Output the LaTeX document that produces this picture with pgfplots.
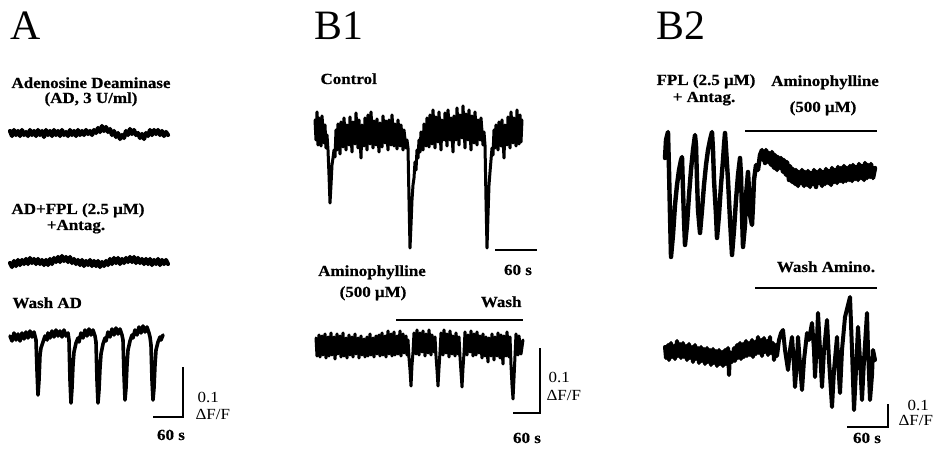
\documentclass[border=0pt]{standalone}
\usepackage{pgfplots}
\pgfplotsset{compat=1.18}
\usepackage{fontspec}
\setmainfont{Liberation Serif}
\newfontfamily\lblfamily[FakeStretch=1.1, BoldFeatures={FakeBold=0.6}]{Liberation Serif}

\newcommand\lbl{\lblfamily\fontsize{15.5}{18}\selectfont\bfseries}
\newcommand\sml{\lblfamily\fontsize{15.5}{18}\selectfont}
\newcommand\panel{\fontsize{42}{46}\selectfont}

\tikzset{
  trace/.style={black, line width=3bp, line join=round, line cap=round, mark=none},
  bar/.style={black, line width=2.2bp, mark=none},
}

\begin{document}
\begin{tikzpicture}
\begin{axis}[name=ax, scale only axis, width=934bp, height=450bp,
  xmin=0, xmax=934, ymin=0, ymax=450, y dir=reverse, hide axis, clip=false]

% ---------------- panel A ----------------
\node[anchor=base west, font=\panel] at (axis cs:7,40) {A};
\node[anchor=base, font=\lbl] at (axis cs:91,88) {Adenosine Deaminase};
\node[anchor=base, font=\lbl] at (axis cs:91,103) {(AD, 3 U/ml)};
\node[anchor=base, font=\lbl] at (axis cs:78,214) {AD+FPL (2.5 μM)};
\node[anchor=base, font=\lbl] at (axis cs:76,230) {+Antag.};
\node[anchor=base west, font=\lbl] at (axis cs:9,308) {Wash AD};

% adenosine deaminase
\addplot[trace, line width=4.2bp] coordinates {
(10,131) (12,136) (14,130) (16,135) (18,131) (20,136) (22,130) (24,135) (26,132) (28,136)
(30,130) (32,135) (34,131) (36,136) (38,130) (40,135) (42,131) (44,137) (46,130) (48,135)
(50,131) (52,136) (54,130) (56,135) (58,131) (60,136) (62,130) (64,135) (66,132) (68,136)
(70,130) (72,135) (74,131) (76,136) (78,130) (80,135) (82,131) (84,135) (86,130) (88,134)
(90,131) (92,135) (94,130) (96,133) (98,128) (100,132) (102,126) (104,131) (106,127) (108,132)
(110,129) (112,135) (114,131) (116,137) (118,133) (120,139) (122,135) (124,138) (126,131) (128,135)
(130,129) (132,134) (134,130) (136,135) (138,133) (140,138) (142,134) (144,139) (146,133) (148,136)
(150,130) (152,135) (154,130) (156,134) (158,130) (160,135) (162,131) (164,136) (166,132) (168,135)};

% AD + FPL + antagonists
\addplot[trace, line width=4.2bp] coordinates {
(10,263) (12,267) (14,261) (16,266) (18,260) (20,265) (22,260) (24,264) (26,259) (28,264)
(30,258) (32,263) (34,259) (36,264) (38,259) (40,264) (42,260) (44,265) (46,260) (48,265)
(50,259) (52,264) (54,258) (56,262) (58,257) (60,262) (62,256) (64,261) (66,257) (68,262)
(70,257) (72,263) (74,259) (76,264) (78,260) (80,265) (82,260) (84,266) (86,261) (88,265)
(90,260) (92,266) (94,261) (96,266) (98,261) (100,267) (102,262) (104,266) (106,261) (108,265)
(110,259) (112,264) (114,258) (116,263) (118,258) (120,264) (122,259) (124,263) (126,258) (128,262)
(130,257) (132,262) (134,257) (136,263) (138,258) (140,263) (142,259) (144,264) (146,259) (148,264)
(150,259) (152,265) (154,260) (156,264) (158,259) (160,265) (162,260) (164,264) (166,260) (168,264)};

% wash AD
\addplot[trace, line width=3.6bp] coordinates {
(10,336) (12,341) (14,333) (16,340) (18,334) (20,341) (22,333) (24,339) (26,332) (28,338)
(30,331) (32,337) (34,332) (35,336) (36,340) (37,370) (38,395) (39,380) (40,355) (41,348)
(43,342) (45,336) (47,340) (48,333) (50,338) (52,331) (54,337) (56,330) (58,336) (60,331)
(62,337) (64,330) (66,336) (68,333) (69,340) (70,380) (71,403) (72,388) (73,365) (74,352)
(76,343) (78,338) (79,342) (81,333) (83,338) (85,330) (87,336) (89,329) (91,335) (93,330)
(95,336) (96,342) (97,380) (98,403) (99,390) (100,368) (101,354) (103,344) (105,338) (106,341)
(108,332) (110,337) (112,329) (114,335) (116,328) (118,334) (120,329) (122,335) (123,340) (124,375)
(125,400) (126,388) (127,365) (128,350) (130,341) (132,335) (133,338) (135,330) (137,335) (139,327)
(141,333) (143,326) (145,332) (147,327) (149,333) (150,337) (151,345) (152,380) (153,400) (154,388)
(155,365) (156,350) (158,342) (160,337) (161,340) (163,335)};

% scale bar A
\addplot[bar] coordinates {(153,417) (183,417) (183,367)};
\node[anchor=base west, font=\sml] at (axis cs:194,403) {0.1};
\node[anchor=base west, font=\sml] at (axis cs:192,420) {ΔF/F};
\node[anchor=base, font=\lbl] at (axis cs:171,440) {60 s};

% ---------------- panel B1 ----------------
\node[anchor=base west, font=\panel] at (axis cs:311,40) {B1};
\node[anchor=base west, font=\lbl] at (axis cs:317,84) {Control};

\addplot[trace] coordinates {
(315,120) (316,140) (317,112) (318,145) (319,118) (321,146) (322,116) (324,143) (325,125) (326,148)
(327,135) (328,150) (329,175) (330,203) (331,185) (332,165) (333,158) (334,150) (335,157) (336,130)
(337,150) (338,124) (340,154) (341,122) (343,147) (344,118) (346,150) (347,125) (349,145) (350,117)
(352,152) (353,122) (355,144) (356,113) (358,148) (359,120) (361,158) (362,125) (364,146) (365,118)
(367,150) (368,115) (370,144) (371,112) (373,148) (374,121) (376,145) (377,119) (379,152) (380,123)
(382,147) (383,116) (385,143) (386,121) (388,150) (389,120) (391,145) (392,115) (394,146) (395,124)
(397,149) (398,120) (400,146) (401,125) (403,150) (404,130) (406,148) (407,140) (408,148) (409,200)
(410,248) (411,225) (412,200) (413,185) (414,178) (415,162) (416,170) (417,150) (418,158) (419,140)
(420,152) (421,132) (423,150) (424,124) (426,146) (427,118) (429,147) (430,115) (432,144) (433,110)
(435,148) (436,117) (438,142) (439,112) (441,150) (442,120) (444,140) (445,113) (447,146) (448,110)
(450,140) (451,118) (453,152) (454,116) (456,140) (457,108) (459,145) (460,115) (462,138) (463,106)
(465,148) (466,114) (468,140) (469,110) (471,150) (472,116) (474,143) (475,112) (477,145) (478,120)
(480,140) (481,118) (483,145) (484,132) (485,145) (486,200) (487,248) (488,215) (489,185) (490,172)
(491,160) (492,148) (493,155) (494,130) (495,148) (496,125) (498,150) (499,122) (501,146) (502,120)
(504,158) (505,125) (507,145) (508,117) (510,148) (511,112) (513,143) (514,118) (516,146) (517,110)
(519,144) (520,115) (521,142) (522,120)};

\addplot[bar] coordinates {(495,250) (537,250)};
\node[anchor=base, font=\lbl] at (axis cs:518,275) {60 s};

\node[anchor=base, font=\lbl] at (axis cs:372,276) {Aminophylline};
\node[anchor=base, font=\lbl] at (axis cs:373,297) {(500 μM)};
\node[anchor=base east, font=\lbl] at (axis cs:525,307) {Wash};
\addplot[bar] coordinates {(396,320) (523,320)};

\addplot[trace] coordinates {
(316,338) (317,356) (319,335) (320,357) (322,336) (323,355) (325,334) (326,358) (328,337) (329,356)
(331,333) (332,355) (334,337) (335,359) (337,334) (338,354) (340,336) (341,357) (343,333) (344,356)
(346,338) (347,358) (349,335) (350,355) (352,337) (353,357) (355,334) (356,354) (358,338) (359,358)
(361,336) (362,355) (364,339) (365,357) (367,337) (368,356) (370,334) (371,355) (373,338) (374,357)
(376,336) (377,354) (379,335) (380,356) (382,333) (383,355) (385,336) (386,357) (388,331) (389,354)
(391,334) (392,356) (394,332) (395,355) (397,336) (398,354) (400,331) (401,356) (403,334) (404,353)
(406,336) (407,355) (408,340) (409,358) (410,370) (411,386) (412,365) (413,352) (414,333) (416,354)
(417,330) (419,355) (420,333) (422,352) (423,331) (425,356) (426,334) (428,353) (429,330) (431,355)
(432,335) (434,352) (435,337) (436,356) (437,370) (438,386) (439,368) (440,352) (441,333) (443,355)
(444,330) (446,353) (447,334) (449,357) (450,331) (452,354) (453,336) (455,356) (456,333) (458,354)
(459,337) (460,357) (461,372) (462,387) (463,368) (464,353) (465,332) (467,355) (468,335) (470,352)
(471,331) (473,356) (474,334) (476,355) (477,332) (479,353) (480,336) (482,358) (483,334) (485,356)
(486,337) (488,362) (489,338) (491,356) (492,334) (494,360) (495,337) (497,356) (498,333) (500,358)
(501,335) (503,364) (504,336) (506,356) (507,332) (509,357) (510,337) (511,365) (512,385) (513,399)
(514,378) (515,356) (516,334) (518,355) (519,336) (521,354) (523,340)};

\addplot[bar] coordinates {(513,413) (540,413) (540,348)};
\node[anchor=base west, font=\sml] at (axis cs:545,383) {0.1};
\node[anchor=base west, font=\sml] at (axis cs:543,401) {ΔF/F};
\node[anchor=base, font=\lbl] at (axis cs:527,443) {60 s};

% ---------------- panel B2 ----------------
\node[anchor=base west, font=\panel] at (axis cs:653,40) {B2};
\node[anchor=base, font=\lbl] at (axis cs:706,85) {FPL (2.5 μM)};
\node[anchor=base, font=\lbl] at (axis cs:704,102) {+ Antag.};
\node[anchor=base, font=\lbl] at (axis cs:825,86) {Aminophylline};
\node[anchor=base, font=\lbl] at (axis cs:823,112) {(500 μM)};
\addplot[bar] coordinates {(745,131) (877,131)};

\addplot[trace, line width=4.4bp] coordinates {
(665,158) (666,140) (668,132) (669,170) (670,215) (671,257) (673,235) (675,205) (677,185) (679,170)
(681,160) (682,157) (683,190) (684,220) (685,245) (687,225) (689,195) (691,170) (693,150) (695,135)
(696,145) (697,180) (698,210) (700,233) (702,210) (704,185) (706,165) (708,150) (710,140) (712,132)
(713,150) (714,180) (716,215) (717,238) (719,215) (721,185) (723,160) (724,145) (725,133) (726,148)
(728,180) (730,220) (732,255) (734,230) (736,200) (738,175) (740,158) (741,175) (742,215) (743,247)
(745,225) (746,195) (748,172) (749,190) (750,215) (752,225) (753,205) (754,180) (756,165) (758,170)
(760,155) (762,150) (763,160) (764,152) (765,163) (766,150) (768,162) (769,153) (771,165) (772,152)
(774,168) (775,155) (777,170) (778,157) (780,168) (781,158) (783,172) (784,160) (786,175) (787,162)
(789,180) (790,166) (792,182) (793,169) (795,184) (796,170) (798,186) (799,172) (801,183) (802,170)
(804,186) (805,172) (807,185) (808,171) (810,187) (811,173) (813,184) (814,170) (816,187) (817,172)
(819,183) (820,170) (822,186) (823,172) (825,184) (826,169) (828,183) (829,171) (831,185) (832,168)
(834,182) (835,170) (837,183) (838,167) (840,181) (841,168) (843,182) (844,166) (846,181) (847,168)
(849,180) (850,166) (852,181) (853,165) (855,179) (856,167) (858,180) (859,164) (861,178) (862,166)
(864,180) (865,163) (867,178) (868,165) (870,177) (871,164) (873,178) (875,168)};

\node[anchor=base, font=\lbl] at (axis cs:826,272) {Wash Amino.};
\addplot[bar] coordinates {(755,288) (877,288)};

\addplot[trace, line width=4bp] coordinates {
(665,347) (666,358) (668,345) (669,360) (671,343) (672,357) (674,346) (675,359) (677,341) (678,356)
(680,344) (681,358) (683,343) (684,357) (686,346) (687,360) (689,344) (690,358) (692,347) (693,362)
(695,345) (696,359) (698,348) (699,363) (701,347) (702,361) (704,349) (705,364) (707,348) (708,362)
(710,350) (711,365) (713,349) (714,363) (716,351) (717,366) (719,350) (720,364) (722,352) (723,366)
(725,350) (726,364) (728,348) (729,375) (730,352) (732,362) (734,348) (735,361) (737,345) (738,358)
(740,343) (741,359) (743,344) (744,357) (746,341) (747,356) (749,343) (750,355) (752,340) (753,357)
(755,342) (756,354) (758,337) (759,353) (761,340) (762,356) (764,338) (765,352) (767,341) (768,355)
(770,337) (771,353) (773,343) (774,360) (776,345) (777,356) (779,340) (781,333) (783,330) (785,350)
(788,370) (790,350) (792,337) (794,365) (795,387) (797,360) (798,337) (800,365) (802,390) (804,360)
(807,333) (809,340) (812,323) (814,350) (815,377) (817,340) (818,313) (820,350) (822,387) (824,350)
(827,320) (829,360) (832,407) (834,370) (837,337) (838,360) (840,393) (842,350) (845,317) (848,305)
(850,297) (852,350) (854,410) (856,370) (858,327) (860,360) (862,400) (864,360) (867,313) (868,350)
(870,400) (872,375) (873,350) (875,360)};

\addplot[bar] coordinates {(847,427) (888,427) (888,404)};
\node[anchor=base west, font=\sml] at (axis cs:904,411) {0.1};
\node[anchor=base west, font=\sml] at (axis cs:895,426) {ΔF/F};
\node[anchor=base, font=\lbl] at (axis cs:867,443) {60 s};
\end{axis}
\pgfresetboundingbox
\path (ax.south west) rectangle (ax.north east);
\end{tikzpicture}
\end{document}
